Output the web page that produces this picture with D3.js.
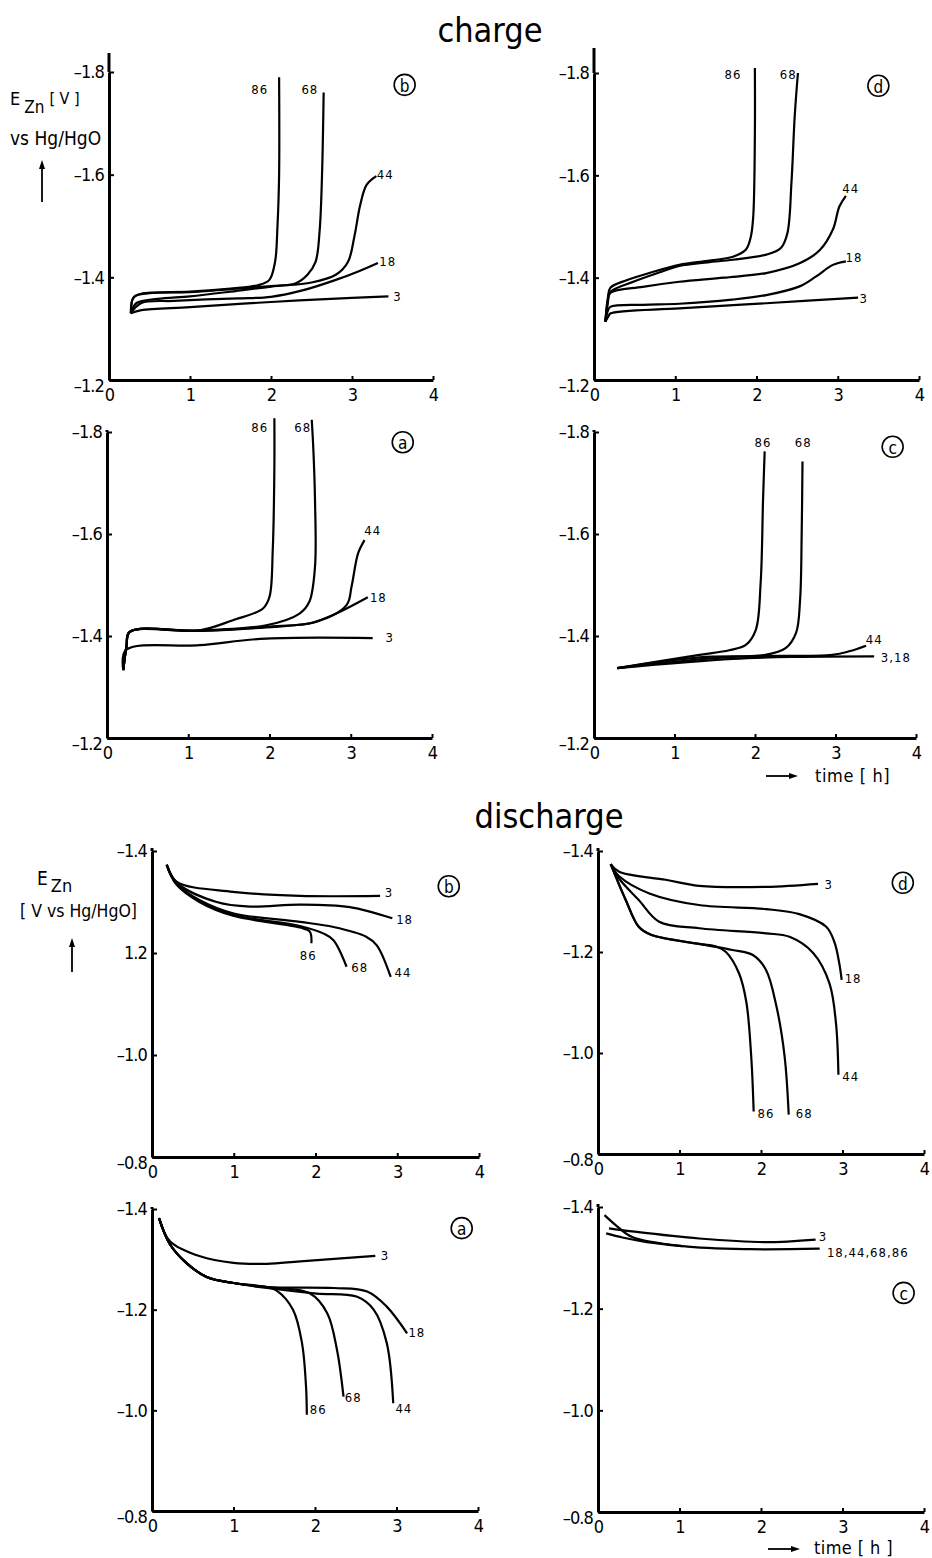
<!DOCTYPE html>
<html>
<head>
<meta charset="utf-8">
<script src="https://cdn.jsdelivr.net/npm/d3@7"></script>
<style>
body { margin: 0; background: #fff; }
svg text { font-family: "DejaVu Sans Condensed", "Liberation Sans Narrow", "DejaVu Sans", sans-serif; font-stretch: condensed; fill: #000; }
.tick text { font-size: 18px; letter-spacing: -0.9px; }
.lbl { font-size: 13px; letter-spacing: 1px; }
</style>
</head>
<body>
<svg id="chart" width="932" height="1558"></svg>
<script>
// axis values
const timeTicks = [0, 1, 2, 3, 4];
const chargeTicks = [-1.2, -1.4, -1.6, -1.8];
const chargeTickLabels = ['–1.2', '–1.4', '–1.6', '–1.8'];
const dischargeTicks = [-0.8, -1.0, -1.2, -1.4];
const dischargeTickLabels = ['–0.8', '–1.0', '–1.2', '–1.4'];
const dischargeBTickLabels = ['–0.8', '–1.0', '1.2', '–1.4'];

// CHARGE  [time h, E V]
const chargeB = [
	{ id: '86', pts: [[0.27,-1.33],[0.30,-1.36],[0.40,-1.368],[1.0,-1.372],[1.5,-1.378],[1.85,-1.385],[1.98,-1.395],[2.05,-1.43],[2.08,-1.5],[2.1,-1.6],[2.1,-1.79]] },
	{ id: '68', pts: [[0.27,-1.33],[0.31,-1.362],[0.5,-1.369],[1.0,-1.371],[1.5,-1.377],[2.0,-1.383],[2.3,-1.388],[2.45,-1.405],[2.55,-1.43],[2.6,-1.49],[2.63,-1.6],[2.65,-1.76]] },
	{ id: '44', pts: [[0.27,-1.33],[0.34,-1.35],[0.6,-1.358],[1.0,-1.363],[1.5,-1.372],[2.0,-1.382],[2.5,-1.39],[2.8,-1.405],[2.95,-1.43],[3.03,-1.48],[3.1,-1.54],[3.18,-1.58],[3.3,-1.597]] },
	{ id: '18', pts: [[0.27,-1.33],[0.4,-1.35],[0.8,-1.354],[1.2,-1.357],[1.6,-1.359],[2.0,-1.362],[2.4,-1.375],[2.8,-1.395],[3.1,-1.413],[3.32,-1.428]] },
	{ id: '3',  pts: [[0.27,-1.33],[0.4,-1.336],[1.0,-1.342],[2.0,-1.352],[3.0,-1.36],[3.45,-1.363]] }
];
const chargeBNotes = [['86',1.86,-1.765],['68',2.48,-1.765],['44',3.41,-1.601],['18',3.44,-1.43],['3',3.56,-1.362]];

const chargeD = [
	{ id: '86', pts: [[0.14,-1.314],[0.17,-1.36],[0.2,-1.38],[0.4,-1.395],[0.7,-1.41],[1.05,-1.425],[1.4,-1.433],[1.71,-1.441],[1.87,-1.455],[1.93,-1.48],[1.96,-1.52],[1.98,-1.68],[1.98,-1.81]] },
	{ id: '68', pts: [[0.14,-1.314],[0.17,-1.355],[0.2,-1.372],[0.5,-1.393],[0.8,-1.41],[1.05,-1.423],[1.4,-1.43],[1.71,-1.435],[2.12,-1.445],[2.3,-1.458],[2.38,-1.487],[2.43,-1.585],[2.47,-1.715],[2.51,-1.80]] },
	{ id: '44', pts: [[0.14,-1.314],[0.17,-1.35],[0.2,-1.37],[0.6,-1.382],[1.05,-1.392],[1.6,-1.4],[2.12,-1.409],[2.53,-1.428],[2.78,-1.454],[2.94,-1.494],[3.02,-1.539],[3.10,-1.56]] },
	{ id: '18', pts: [[0.14,-1.314],[0.17,-1.335],[0.2,-1.343],[0.6,-1.347],[1.05,-1.349],[1.7,-1.357],[2.12,-1.366],[2.53,-1.383],[2.73,-1.402],[2.94,-1.425],[3.1,-1.432]] },
	{ id: '3',  pts: [[0.14,-1.314],[0.18,-1.325],[0.2,-1.33],[1.05,-1.34],[2.12,-1.35],[3.25,-1.361]] }
];
const chargeDNotes = [['86',1.71,-1.798],['68',2.39,-1.798],['44',3.16,-1.575],['18',3.2,-1.44],['3',3.32,-1.36]];

const chargeA = [
	{ id: '86', pts: [[0.2,-1.333],[0.24,-1.38],[0.28,-1.408],[1.14,-1.411],[1.55,-1.431],[1.92,-1.454],[2.0,-1.477],[2.04,-1.569],[2.06,-1.732],[2.06,-1.827]] },
	{ id: '68', pts: [[0.2,-1.333],[0.24,-1.38],[0.28,-1.408],[1.14,-1.411],[1.96,-1.421],[2.37,-1.444],[2.49,-1.467],[2.56,-1.536],[2.56,-1.667],[2.54,-1.765],[2.52,-1.824]] },
	{ id: '44', pts: [[0.2,-1.333],[0.24,-1.38],[0.28,-1.408],[1.14,-1.41],[1.96,-1.418],[2.58,-1.428],[2.95,-1.461],[3.01,-1.497],[3.09,-1.562],[3.17,-1.588]] },
	{ id: '18', pts: [[0.2,-1.333],[0.24,-1.38],[0.28,-1.408],[1.14,-1.41],[1.96,-1.417],[2.5,-1.425],[2.78,-1.441],[3.21,-1.476]] },
	{ id: '3',  pts: [[0.2,-1.333],[0.23,-1.372],[1.14,-1.382],[1.96,-1.395],[3.27,-1.396]] }
];
const chargeANotes = [['86',1.88,-1.808],['68',2.41,-1.808],['44',3.27,-1.606],['18',3.34,-1.476],['3',3.48,-1.398]];

const chargeC = [
	{ id: '86',   pts: [[0.29,-1.337],[1.31,-1.363],[1.68,-1.372],[1.89,-1.383],[2.01,-1.412],[2.07,-1.504],[2.1,-1.667],[2.12,-1.762]] },
	{ id: '68',   pts: [[0.29,-1.337],[1.31,-1.358],[2.13,-1.363],[2.38,-1.376],[2.51,-1.406],[2.56,-1.471],[2.58,-1.602],[2.59,-1.742]] },
	{ id: '44',   pts: [[0.29,-1.337],[1.72,-1.359],[2.96,-1.363],[3.17,-1.37],[3.38,-1.381]] },
	{ id: '3,18', pts: [[0.29,-1.337],[1.72,-1.355],[2.5,-1.359],[3.48,-1.36]] }
];
const chargeCNotes = [['86',2.1,-1.78],['68',2.6,-1.78],['44',3.48,-1.394],['3,18',3.75,-1.357]];

// DISCHARGE
const dischargeB = [
	{ id: '3',  pts: [[0.18,-1.373],[0.3,-1.34],[0.99,-1.32],[1.81,-1.312],[2.79,-1.312]] },
	{ id: '18', pts: [[0.18,-1.373],[0.3,-1.338],[0.79,-1.30],[1.2,-1.291],[1.81,-1.295],[2.42,-1.29],[2.94,-1.268]] },
	{ id: '44', pts: [[0.18,-1.373],[0.3,-1.336],[0.58,-1.304],[0.99,-1.278],[1.81,-1.261],[2.22,-1.251],[2.62,-1.232],[2.75,-1.215],[2.92,-1.153]] },
	{ id: '68', pts: [[0.18,-1.373],[0.3,-1.335],[0.58,-1.302],[0.99,-1.275],[1.81,-1.253],[2.1,-1.238],[2.22,-1.225],[2.38,-1.173]] },
	{ id: '86', pts: [[0.18,-1.373],[0.3,-1.334],[0.58,-1.300],[0.99,-1.273],[1.81,-1.25],[1.93,-1.242],[1.95,-1.219]] }
];
const dischargeBNotes = [['3',2.9,-1.318],['18',3.09,-1.265],['86',1.91,-1.196],['68',2.54,-1.171],['44',3.07,-1.161]];

const dischargeD = [
	{ id: '3',  pts: [[0.156,-1.374],[0.26,-1.359],[0.83,-1.343],[1.24,-1.331],[2.06,-1.329],[2.7,-1.335]] },
	{ id: '18', pts: [[0.156,-1.374],[0.26,-1.35],[0.63,-1.316],[1.24,-1.293],[2.06,-1.285],[2.47,-1.275],[2.8,-1.25],[2.9,-1.22],[2.96,-1.178],[2.99,-1.145]] },
	{ id: '44', pts: [[0.156,-1.374],[0.26,-1.345],[0.5,-1.303],[0.75,-1.26],[1.24,-1.247],[2.06,-1.237],[2.35,-1.23],[2.64,-1.198],[2.84,-1.138],[2.92,-1.059],[2.95,-0.957]] },
	{ id: '68', pts: [[0.156,-1.374],[0.34,-1.303],[0.5,-1.25],[0.65,-1.234],[1.24,-1.216],[1.65,-1.204],[1.90,-1.194],[2.06,-1.165],[2.19,-1.092],[2.29,-0.993],[2.34,-0.878]] },
	{ id: '86', pts: [[0.156,-1.374],[0.34,-1.303],[0.5,-1.25],[0.65,-1.234],[1.24,-1.216],[1.45,-1.211],[1.57,-1.2],[1.73,-1.158],[1.82,-1.101],[1.88,-0.993],[1.91,-0.884]] }
];
const dischargeDNotes = [['3',2.83,-1.333],['18',3.13,-1.147],['44',3.1,-0.954],['86',2.06,-0.881],['68',2.53,-0.881]];

const dischargeA = [
	{ id: '3',  pts: [[0.086,-1.382],[0.22,-1.336],[0.59,-1.306],[1.0,-1.293],[1.41,-1.291],[1.82,-1.296],[2.74,-1.307]] },
	{ id: '86', pts: [[0.086,-1.382],[0.22,-1.33],[0.42,-1.293],[0.67,-1.265],[1.0,-1.253],[1.41,-1.245],[1.53,-1.238],[1.73,-1.2],[1.84,-1.134],[1.89,-1.047],[1.9,-0.991]] },
	{ id: '68', pts: [[0.086,-1.382],[0.22,-1.33],[0.42,-1.293],[0.67,-1.265],[1.0,-1.253],[1.41,-1.245],[1.94,-1.232],[2.15,-1.193],[2.27,-1.12],[2.35,-1.027]] },
	{ id: '44', pts: [[0.086,-1.382],[0.22,-1.33],[0.42,-1.293],[0.67,-1.265],[1.0,-1.253],[1.41,-1.243],[2.02,-1.232],[2.51,-1.226],[2.72,-1.2],[2.88,-1.134],[2.96,-1.014]] },
	{ id: '18', pts: [[0.086,-1.382],[0.22,-1.33],[0.42,-1.293],[0.67,-1.265],[1.0,-1.253],[1.41,-1.245],[2.23,-1.243],[2.64,-1.236],[2.88,-1.206],[3.13,-1.153]] }
];
const dischargeANotes = [['3',2.86,-1.307],['18',3.25,-1.154],['68',2.47,-1.025],['86',2.04,-1.001],['44',3.09,-1.003]];

const dischargeC = [
	{ id: '3',   pts: [[0.135,-1.358],[0.42,-1.352],[1.24,-1.338],[2.06,-1.331],[2.67,-1.336]] },
	{ id: '18+', pts: [[0.08,-1.384],[0.22,-1.364],[0.42,-1.341],[1.04,-1.323],[1.86,-1.317],[2.72,-1.318]] },
	{ id: '68+', pts: [[0.1,-1.348],[0.3,-1.34],[0.6,-1.331],[1.04,-1.323]] }
];
const dischargeCNotes = [['3',2.76,-1.341],['18,44,68,86',3.31,-1.31]];

// panel placement (pixels)
const panels = [
	{ data: chargeB, notes: chargeBNotes, tag: 'b', tagAt: [3.65,-1.775], ticks: chargeTicks, labels: chargeTickLabels, x0: 109, x4: 433, yb: 380, yt: 72, top: 53 },
	{ data: chargeD, notes: chargeDNotes, tag: 'd', tagAt: [3.5,-1.775], ticks: chargeTicks, labels: chargeTickLabels, x0: 594, x4: 919, yb: 380, yt: 73, top: 48 },
	{ data: chargeA, notes: chargeANotes, tag: 'a', tagAt: [3.64,-1.78], ticks: chargeTicks, labels: chargeTickLabels, x0: 107, x4: 432, yb: 738, yt: 432, top: 430 },
	{ data: chargeC, notes: chargeCNotes, tag: 'c', tagAt: [3.71,-1.771], ticks: chargeTicks, labels: chargeTickLabels, x0: 594, x4: 916, yb: 738, yt: 432, top: 430 },
	{ data: dischargeB, notes: dischargeBNotes, tag: 'b', tagAt: [3.63,-1.331], ticks: dischargeTicks, labels: dischargeBTickLabels, x0: 152, x4: 479, yb: 1157, yt: 851, top: 848 },
	{ data: dischargeD, notes: dischargeDNotes, tag: 'd', tagAt: [3.74,-1.337], ticks: dischargeTicks, labels: dischargeTickLabels, x0: 598, x4: 924, yb: 1154, yt: 851, top: 848 },
	{ data: dischargeA, notes: dischargeANotes, tag: 'a', tagAt: [3.8,-1.362], ticks: dischargeTicks, labels: dischargeTickLabels, x0: 152, x4: 478, yb: 1511, yt: 1209, top: 1207 },
	{ data: dischargeC, notes: dischargeCNotes, tag: 'c', tagAt: [3.75,-1.231], ticks: dischargeTicks, labels: dischargeTickLabels, x0: 598, x4: 924, yb: 1512, yt: 1207, top: 1204 }
];

const svg = d3.select('#chart');
const line = d3.line().curve(d3.curveCatmullRom.alpha(0.5));

panels.forEach(p => {
	const x = d3.scaleLinear().domain([0, 4]).range([p.x0, p.x4]);
	const y = d3.scaleLinear().domain([p.ticks[0], p.ticks[p.ticks.length - 1]]).range([p.yb, p.yt]);
	const g = svg.append('g');

	// curves
	g.selectAll('path.curve')
		.data(p.data)
		.enter()
		.append('path')
			.attr('class', 'curve')
			.attr('fill', 'none')
			.attr('stroke', '#000')
			.attr('stroke-width', 2.2)
			.attr('stroke-linejoin', 'round')
			.attr('d', d => line(d.pts.map(q => [x(q[0]), y(q[1])])));

	// x axis
	const ax = g.append('g')
		.attr('transform', `translate(0,${p.yb})`)
		.call(d3.axisBottom(x).tickValues(timeTicks).tickSize(-4).tickSizeOuter(0).tickPadding(7).tickFormat(d3.format('d')));
	ax.select('.domain').attr('stroke-width', 3);
	ax.selectAll('.tick line').attr('stroke-width', 2);
	ax.selectAll('.tick text').attr('dy', '0.78em');

	// y axis
	const ay = g.append('g')
		.attr('transform', `translate(${p.x0},0)`)
		.call(d3.axisLeft(y).tickValues(p.ticks).tickSize(-5).tickSizeOuter(0).tickPadding(5)
			.tickFormat((d, i) => p.labels[i]));
	ay.select('.domain').attr('stroke-width', 3);
	ay.selectAll('.tick line').attr('stroke-width', 2);
	ay.selectAll('.tick text').filter((d, i) => i === 0).attr('dy', '0.62em');
	ay.append('line')
		.attr('y1', p.yt).attr('y2', p.top)
		.attr('stroke', '#000').attr('stroke-width', 3);

	// curve labels
	g.selectAll('text.lbl')
		.data(p.notes)
		.enter()
		.append('text')
			.attr('class', 'lbl')
			.attr('x', d => x(d[1]))
			.attr('y', d => y(d[2]))
			.attr('text-anchor', 'middle')
			.attr('dominant-baseline', 'central')
			.text(d => d[0]);

	// circled letter
	g.append('circle')
		.attr('cx', x(p.tagAt[0])).attr('cy', y(p.tagAt[1])).attr('r', 10.5)
		.attr('fill', 'none').attr('stroke', '#000').attr('stroke-width', 1.6);
	g.append('text')
		.attr('x', x(p.tagAt[0])).attr('y', y(p.tagAt[1]) + 1)
		.attr('text-anchor', 'middle').attr('dominant-baseline', 'central')
		.style('font-size', '17px')
		.text(p.tag);
});

// titles
svg.append('text').attr('x', 490).attr('y', 42).attr('text-anchor', 'middle')
	.style('font-size', '34px').text('charge');
svg.append('text').attr('x', 549).attr('y', 828).attr('text-anchor', 'middle')
	.style('font-size', '34px').text('discharge');

// y titles
const t1 = svg.append('text').attr('x', 10).attr('y', 105).style('font-size', '18px');
t1.append('tspan').text('E');
t1.append('tspan').attr('dx', 4).attr('dy', 8).style('font-size', '17px').text('Zn');
t1.append('tspan').attr('dx', 5).attr('dy', -9).style('font-size', '16px').text('[ V ]');
svg.append('text').attr('x', 10).attr('y', 145).style('font-size', '19px').text('vs Hg/HgO');

const t2 = svg.append('text').attr('x', 37).attr('y', 885).style('font-size', '19px');
t2.append('tspan').text('E');
t2.append('tspan').attr('dx', 3).attr('dy', 7).style('font-size', '18px').text('Zn');
svg.append('text').attr('x', 20).attr('y', 917).style('font-size', '17.5px').text('[ V vs Hg/HgO]');

function arrow(x1, y1, x2, y2) {
	const a = Math.atan2(y2 - y1, x2 - x1);
	const L = 9, W = 3;
	svg.append('line').attr('x1', x1).attr('y1', y1)
		.attr('x2', x2 - L * Math.cos(a) * 0.5).attr('y2', y2 - L * Math.sin(a) * 0.5)
		.attr('stroke', '#000').attr('stroke-width', 1.8);
	const bx = x2 - L * Math.cos(a), by = y2 - L * Math.sin(a);
	svg.append('path')
		.attr('d', `M${x2},${y2}L${bx - W * Math.sin(a)},${by + W * Math.cos(a)}L${bx + W * Math.sin(a)},${by - W * Math.cos(a)}Z`)
		.attr('fill', '#000');
}
arrow(42, 202, 42, 160);
arrow(72, 972, 72, 938);
arrow(766, 776, 798, 776);
arrow(768, 1549, 800, 1549);

svg.append('text').attr('x', 815).attr('y', 782).style('font-size', '18px').style('letter-spacing', '0.6px').text('time [ h]');
svg.append('text').attr('x', 814).attr('y', 1554).style('font-size', '18px').style('letter-spacing', '0.4px').text('time [ h ]');
</script>
</body>
</html>
